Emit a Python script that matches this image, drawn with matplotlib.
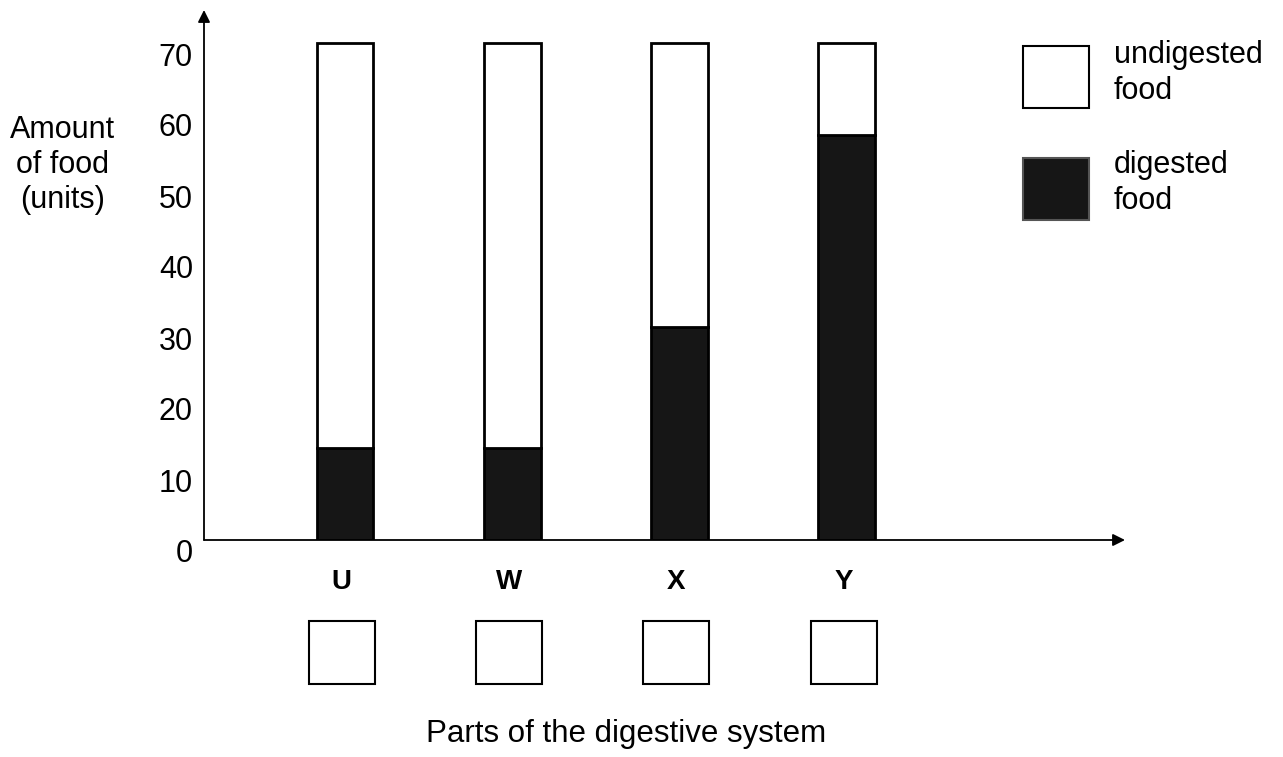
import matplotlib
matplotlib.use("Agg")
import matplotlib.pyplot as plt
from matplotlib.patches import Rectangle
from matplotlib.transforms import ScaledTranslation, blended_transform_factory

plt.rcParams['font.family'] = ['Liberation Sans', 'DejaVu Sans']

# data
parts = ['U', 'W', 'X', 'Y']
total = [70, 70, 70, 70]
digested = [13, 13, 30, 57]
undigested = [t - d for t, d in zip(total, digested)]
yticks = [0, 10, 20, 30, 40, 50, 60, 70]

W, H = 1283, 757
fig = plt.figure(figsize=(W / 100, H / 100), dpi=100)

# axes placed in pixel coords (left, bottom from top)
ax_l, ax_r, ax_b, ax_t = 204, 1125, 540, 10
ax = fig.add_axes([ax_l / W, 1 - ax_b / H, (ax_r - ax_l) / W, (ax_b - ax_t) / H])

pitch = 167.3
x0 = 345
ax.set_xlim((ax_l - x0) / pitch, (ax_r - x0) / pitch)
ax.set_ylim(0, (ax_b - ax_t) / 7.1)

xs = list(range(len(parts)))
bw = 0.34
ax.bar(xs, digested, width=bw, color='#161616', edgecolor='black', lw=2, zorder=3)
ax.bar(xs, undigested, bottom=digested, width=bw, color='white',
       edgecolor='black', lw=2, zorder=3)

for s in ax.spines.values():
    s.set_visible(False)
ax.set_xticks([])
ax.set_yticks(yticks)
ax.tick_params(axis='y', length=0, pad=8, labelsize=22)
for lab in ax.get_yticklabels():
    lab.set_transform(lab.get_transform() + ScaledTranslation(0, -0.11, fig.dpi_scale_trans))

# axis arrows
ax.annotate('', xy=(0, 1.0), xytext=(0, 0), xycoords='axes fraction',
            arrowprops=dict(arrowstyle='-|>', color='black', lw=1.3, mutation_scale=18,
                            shrinkA=0, shrinkB=0))
ax.annotate('', xy=(1.0, 0), xytext=(0, 0), xycoords='axes fraction',
            arrowprops=dict(arrowstyle='-|>', color='black', lw=1.3, mutation_scale=18,
                            shrinkA=0, shrinkB=0))

# category letters and answer boxes below
tr = blended_transform_factory(ax.transData, fig.transFigure)
bx = 66 / pitch
for i, p in enumerate(parts):
    ax.text(i - 0.02, 1 - 582 / H, p, transform=tr, ha='center', va='center',
            fontsize=20, fontweight='bold')
    ax.add_patch(Rectangle((i - 0.02 - bx / 2, 1 - 684 / H), bx, 63 / H, transform=tr,
                           facecolor='white', edgecolor='black', lw=1.5, clip_on=False))

fig.text(626 / W, 1 - 734 / H, 'Parts of the digestive system', ha='center', va='center',
         fontsize=22.5)
fig.text(63 / W, 1 - 165 / H, 'Amount\nof food\n(units)', ha='center', va='center',
         fontsize=22, linespacing=1.22)

# legend
fig.add_artist(Rectangle((1023 / W, 1 - 108 / H), 66 / W, 62 / H, transform=fig.transFigure,
                         facecolor='white', edgecolor='black', lw=1.5))
fig.add_artist(Rectangle((1023 / W, 1 - 220 / H), 66 / W, 62 / H, transform=fig.transFigure,
                         facecolor='#161616', edgecolor='#555555', lw=1.5))
fig.text(1114 / W, 1 - 73 / H, 'undigested\nfood', ha='left', va='center', fontsize=22,
         linespacing=1.3)
fig.text(1114 / W, 1 - 183 / H, 'digested\nfood', ha='left', va='center', fontsize=22,
         linespacing=1.3)

fig.savefig('out.png', dpi=100)
